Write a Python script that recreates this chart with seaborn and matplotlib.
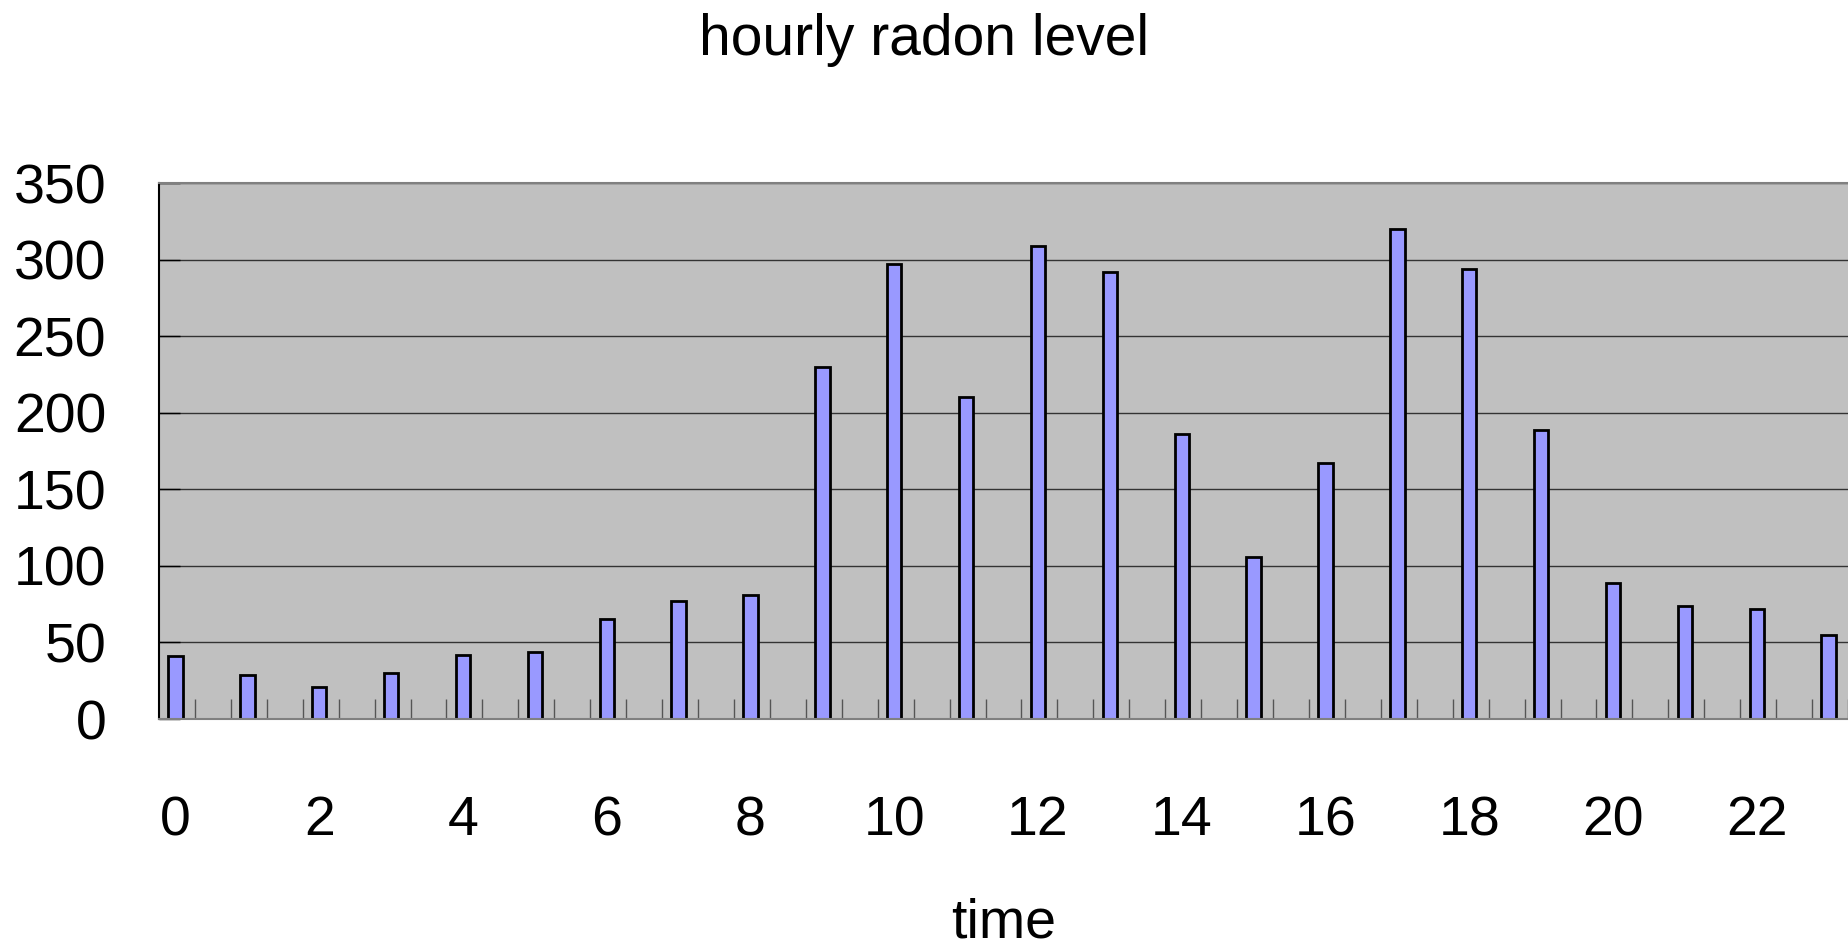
import numpy as np
import pandas as pd
import seaborn as sns
import matplotlib.pyplot as plt

# hourly readings
hours = list(range(24))
radon = [41, 29, 21, 30, 42, 44, 65, 77, 81, 230, 297, 210,
         309, 292, 186, 106, 167, 320, 294, 189, 89, 74, 72, 55]
hour_ticks = list(range(0, 24, 2))
hour_labels = [str(h) for h in hour_ticks]
level_ticks = [0, 50, 100, 150, 200, 250, 300, 350]

df = pd.DataFrame({'time': hours, 'radon': radon})

plt.rcParams['font.family'] = ['Liberation Sans', 'DejaVu Sans']

W, H = 1848, 952
fig = plt.figure(figsize=(W / 100, H / 100), dpi=100)
ax = fig.add_axes([159 / W, 233 / H, 1 - 159 / W, 536 / H])

sns.barplot(data=df, x='time', y='radon', order=hours,
            color='#9999FF', saturation=1, width=0.2,
            edgecolor='black', linewidth=2, ax=ax)

ax.set_facecolor('#C0C0C0')
ax.set_xlim(-0.23, 23.22)
ax.set_ylim(0, 350)

# grid lines
ax.set_yticks(level_ticks)
ax.set_yticklabels([str(v) for v in level_ticks])
ax.yaxis.grid(True, color='#333333', linewidth=1.0)
ax.xaxis.grid(False)
ax.set_axisbelow(True)

ax.set_xticks(hour_ticks)
ax.set_xticklabels(hour_labels)
ax.set_xticks(np.arange(0.27, 23.3, 0.5), minor=True)

ax.tick_params(axis='x', which='major', length=0, labelsize=40, pad=55)
ax.tick_params(axis='x', which='minor', direction='in', length=14.5,
               width=1.0, color='#555555')
ax.tick_params(axis='y', which='major', direction='in', length=15,
               width=1.0, color='black', labelsize=40, pad=38)

for side in ['top', 'bottom']:
    ax.spines[side].set_color('#808080')
    ax.spines[side].set_linewidth(1.5)
ax.spines['left'].set_color('black')
ax.spines['left'].set_linewidth(1.5)
ax.spines['right'].set_visible(False)

ax.set_ylabel('')
ax.set_xlabel('time', fontsize=40, labelpad=36)

fig.text(0.5, 1 - 55 / H, 'hourly radon level', ha='center',
         va='baseline', fontsize=41)

fig.savefig('out.png', dpi=100)
